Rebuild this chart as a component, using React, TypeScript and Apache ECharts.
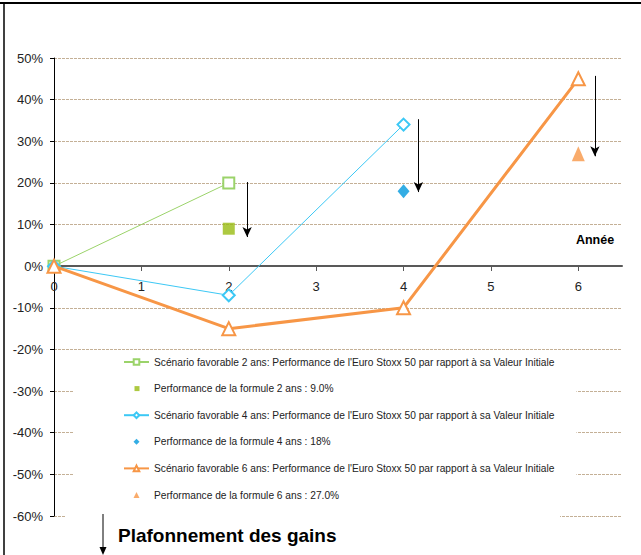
import React, { useEffect, useRef } from "react";
import * as echarts from "echarts";

const xTickValues = [0, 1, 2, 3, 4, 5, 6];
const years2 = [0, 2];
const scen2 = [0, 20];
const years4 = [0, 2, 4];
const scen4 = [0, -7, 34];
const years6 = [0, 2, 4, 6];
const scen6 = [0, -15, -10, 45];
const formule2: [number, number][] = [[2, 9]];
const formule4: [number, number][] = [[4, 18]];
const formule6: [number, number][] = [[6, 27]];
// arrows: [x, yFrom, yTo]
const arrow2 = [2.21, 20.2, 7];
const arrow4 = [4.17, 35.3, 17.8];
const arrow6 = [6.19, 45.7, 26.4];

const names = [
  "Scénario favorable 2 ans: Performance de l'Euro Stoxx 50 par rapport à sa Valeur Initiale",
  "Performance de la formule 2 ans : 9.0%",
  "Scénario favorable 4 ans: Performance de l'Euro Stoxx 50 par rapport à sa Valeur Initiale",
  "Performance de la formule 4 ans : 18%",
  "Scénario favorable 6 ans: Performance de l'Euro Stoxx 50 par rapport à sa Valeur Initiale",
  "Performance de la formule 6 ans : 27.0%",
];

const FONT = "'Liberation Sans', Arial, sans-serif";

const ICON_SQUARE = "path://M0,0M25,7M10.5,1h5v5h-5z";
const ICON_DIAMOND = "path://M0,0M25,7M12.5,0.5L15.5,3.5L12.5,6.5L9.5,3.5Z";
const ICON_TRIANGLE = "path://M0,0M25,7M12.5,0.5L15.5,6.5L9.5,6.5Z";

function zip(xs: number[], ys: number[]) {
  return xs.map((x, i) => [x, ys[i]]);
}

function arrowLine(a: number[]) {
  return {
    silent: true,
    symbol: ["none", "arrow"],
    symbolSize: [7, 10],
    label: { show: false },
    lineStyle: { color: "#000", width: 1, type: "solid" },
    data: [[{ coord: [a[0], a[1]] }, { coord: [a[0], a[2]] }]],
  };
}

export default function App() {
  const ref = useRef<HTMLDivElement>(null);
  useEffect(() => {
    if (!ref.current) return;
    const chart = echarts.init(ref.current, undefined, { renderer: "svg" });
    chart.setOption({
      animation: false,
      backgroundColor: "#fff",
      grid: { left: 54, right: 19, top: 58, bottom: 39 },
      xAxis: {
        type: "value",
        min: 0,
        max: 6.5,
        interval: 1,
        position: "bottom",
        offset: -250,
        axisLine: { onZero: false, lineStyle: { color: "#595959", width: 2 } },
        axisTick: { show: true, length: 5, customValues: xTickValues, lineStyle: { color: "#595959" } },
        axisLabel: {
          customValues: xTickValues,
          margin: 14,
          fontFamily: FONT,
          fontSize: 13,
          color: "#222",
        },
        splitLine: { show: false },
      },
      yAxis: {
        type: "value",
        min: -60,
        max: 50,
        interval: 10,
        axisLine: { show: true, onZero: false, lineStyle: { color: "#000", width: 1 } },
        axisTick: { show: true, length: 4, lineStyle: { color: "#000" } },
        axisLabel: {
          formatter: "{value}%",
          margin: 11,
          fontFamily: FONT,
          fontSize: 13,
          color: "#222",
        },
        splitLine: {
          show: true,
          lineStyle: { color: "#c4b096", width: 1, type: [3, 1] },
        },
      },
      legend: {
        orient: "vertical",
        left: 73,
        top: 352,
        padding: [4, 22, 10, 50],
        backgroundColor: "#fff",
        itemWidth: 25,
        itemHeight: 7,
        itemGap: 14.6,
        selectedMode: false,
        textStyle: { fontFamily: FONT, fontSize: 10.2, color: "#222", lineHeight: 12 },
        data: [
          { name: names[0] },
          { name: names[1], icon: ICON_SQUARE },
          { name: names[2] },
          { name: names[3], icon: ICON_DIAMOND },
          { name: names[4] },
          { name: names[5], icon: ICON_TRIANGLE },
        ],
      },
      series: [
        {
          name: names[0],
          type: "line",
          data: zip(years2, scen2),
          symbol: "emptyRect",
          symbolSize: 11,
          color: "#9bd36a",
          lineStyle: { width: 1, color: "#9bd36a" },
          itemStyle: { color: "#9bd36a", borderWidth: 1.2 },
          z: 3,
        },
        {
          name: names[1],
          type: "scatter",
          data: formule2,
          symbol: "rect",
          symbolSize: 12,
          itemStyle: { color: "#99bb11" },
          markLine: arrowLine(arrow2),
          z: 3,
        },
        {
          name: names[2],
          type: "line",
          data: zip(years4, scen4),
          symbol: "emptyDiamond",
          symbolSize: 12,
          color: "#3cc8f5",
          lineStyle: { width: 1, color: "#3cc8f5" },
          itemStyle: { color: "#3cc8f5", borderWidth: 1.2 },
          z: 4,
        },
        {
          name: names[3],
          type: "scatter",
          data: formule4,
          symbol: "diamond",
          symbolSize: [12, 14],
          itemStyle: { color: "#0099dd" },
          markLine: arrowLine(arrow4),
          z: 4,
        },
        {
          name: names[4],
          type: "line",
          data: zip(years6, scen6),
          symbol: "emptyTriangle",
          symbolSize: 13,
          color: "#f79646",
          lineStyle: { width: 3, color: "#f79646" },
          itemStyle: { color: "#f79646", borderWidth: 1.2 },
          z: 5,
        },
        {
          name: names[5],
          type: "scatter",
          data: formule6,
          symbol: "triangle",
          symbolSize: [13, 15],
          itemStyle: { color: "#f79646" },
          markLine: arrowLine(arrow6),
          z: 5,
        },
      ],
      graphic: [
        { type: "line", shape: { x1: 0, y1: 3, x2: 641, y2: 3 }, style: { stroke: "#000", lineWidth: 2 }, z: 100 },
        { type: "line", shape: { x1: 4, y1: 3, x2: 4, y2: 555 }, style: { stroke: "#000", lineWidth: 1.5 }, z: 100 },
        {
          type: "rect",
          shape: { x: 66, y: 510, width: 494, height: 45 },
          style: { fill: "#fff" },
          z: 50,
        },
        {
          type: "text",
          x: 595,
          y: 240,
          style: {
            text: "Année",
            fontFamily: FONT,
            fontWeight: "bold",
            fontSize: 12.5,
            fill: "#000",
            align: "center",
            verticalAlign: "middle",
          },
          z: 100,
        },
        { type: "line", shape: { x1: 103, y1: 514, x2: 103, y2: 548 }, style: { stroke: "#000", lineWidth: 1 }, z: 100 },
        {
          type: "polygon",
          shape: { points: [[99.5, 547], [106.5, 547], [103, 555]] },
          style: { fill: "#000" },
          z: 100,
        },
        {
          type: "text",
          x: 118,
          y: 535,
          style: {
            text: "Plafonnement des gains",
            fontFamily: FONT,
            fontWeight: "bold",
            fontSize: 19,
            fill: "#000",
            align: "left",
            verticalAlign: "middle",
          },
          z: 100,
        },
      ],
    });
    return () => chart.dispose();
  }, []);
  return (
    <div
      ref={ref}
      style={{ position: "fixed", left: 0, top: 0, width: 641, height: 555 }}
    />
  );
}
